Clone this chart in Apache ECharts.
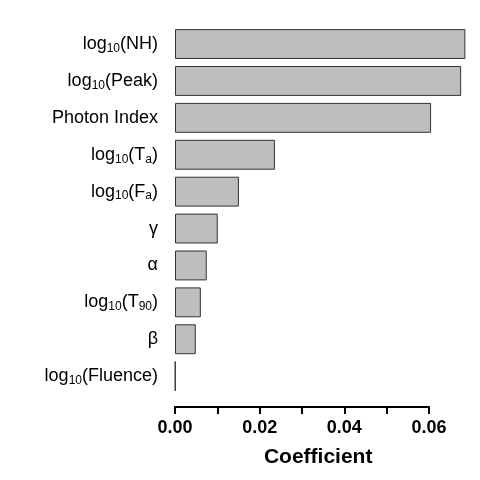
<!DOCTYPE html>
<html>
<head>
<meta charset="utf-8">
<script src="https://cdn.jsdelivr.net/npm/echarts@6/dist/echarts.min.js"></script>
<style>html,body{margin:0;padding:0;background:#fff}#c{width:480px;height:480px}</style>
</head>
<body>
<div id="c"></div>
<script>
// Categories (top to bottom), rich-text labels
const categories = ['NH', 'Peak', 'Photon Index', 'Ta', 'Fa', 'gamma', 'alpha', 'T90', 'beta', 'Fluence'];
const categoryLabels = [
  '{n|log}{s|10}{n|(NH)}',
  '{n|log}{s|10}{n|(Peak)}',
  '{n|Photon Index}',
  '{n|log}{s|10}{n|(T}{s|a}{n|)}',
  '{n|log}{s|10}{n|(F}{s|a}{n|)}',
  '{n|γ}',
  '{n|α}',
  '{n|log}{s|10}{n|(T}{s|90}{n|)}',
  '{n|β}',
  '{n|log}{s|10}{n|(Fluence)}'
];
const coefficients = [0.0686, 0.0676, 0.0605, 0.0236, 0.0151, 0.0101, 0.0075, 0.0061, 0.0049, 0.0001];
const xTicks = [0, 0.01, 0.02, 0.03, 0.04, 0.05, 0.06];
const xTickLabels = ['0.00', '', '0.02', '', '0.04', '', '0.06'];

const FONT = 'Liberation Sans, Arial, Helvetica, sans-serif';
const chart = echarts.init(document.getElementById('c'), null, {renderer: 'canvas'});
const labelMap = {};
categories.forEach((c, i) => labelMap[c] = categoryLabels[i]);

chart.setOption({
  animation: false,
  grid: [
    {left: 175, top: 25.6, width: 296.3, height: 369},
    {left: 175, top: 25.6, width: 254, height: 381.4}
  ],
  xAxis: [
    {
      gridIndex: 0, type: 'value', min: 0, max: 0.07,
      axisLine: {show: false}, axisTick: {show: false}, axisLabel: {show: false}, splitLine: {show: false},
      name: 'Coefficient', nameLocation: 'middle', nameGap: 52,
      nameTextStyle: {fontFamily: FONT, fontWeight: 'bold', fontSize: 21, color: '#000', padding: [0, 10, 0, 0]}
    },
    {
      gridIndex: 1, type: 'value', min: 0, max: 0.06, interval: 0.01, position: 'bottom',
      axisLine: {show: true, onZero: false, lineStyle: {color: '#000', width: 2}},
      axisTick: {show: true, inside: false, length: 7, lineStyle: {color: '#000', width: 2}},
      axisLabel: {
        margin: 12, inside: false, fontFamily: FONT, fontWeight: 'bold', fontSize: 18, color: '#000',
        formatter: v => { const i = xTicks.findIndex(t => Math.abs(t - v) < 1e-9); return i >= 0 ? xTickLabels[i] : ''; }
      },
      splitLine: {show: false}
    }
  ],
  yAxis: [
    {
      gridIndex: 0, type: 'category', data: categories, inverse: true,
      axisLine: {show: false}, axisTick: {show: false}, splitLine: {show: false},
      axisLabel: {
        margin: 17, color: '#000',
        formatter: v => labelMap[v],
        rich: {
          n: {fontFamily: FONT, fontSize: 18, color: '#000'},
          s: {fontFamily: FONT, fontSize: 12, color: '#000', padding: [9, 0, 0, 0]}
        }
      }
    },
    {gridIndex: 1, type: 'value', show: false}
  ],
  series: [{
    type: 'bar', xAxisIndex: 0, yAxisIndex: 0,
    data: coefficients,
    barCategoryGap: '19%',
    itemStyle: {color: '#BEBEBE', borderColor: '#333', borderWidth: 1}
  }]
});
</script>
</body>
</html>
